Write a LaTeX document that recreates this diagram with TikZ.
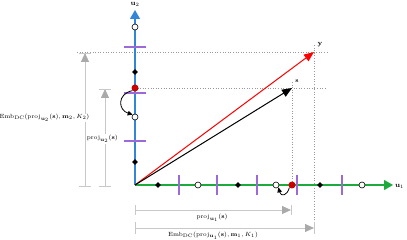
\documentclass[tikz,border=0pt]{standalone}
\usepackage{amsmath}
\usetikzlibrary{arrows.meta,shapes.geometric}
\definecolor{axblue}{HTML}{3385D6}
\definecolor{axgreen}{HTML}{1DAA3C}
\definecolor{tickpurple}{HTML}{9B6AD6}
\definecolor{dotred}{HTML}{CC0000}
\definecolor{dimgray}{HTML}{C8C8C8}
\definecolor{dimtip}{HTML}{AAAAAA}
\begin{document}
\begin{tikzpicture}[x=1pt,y=-1pt,
  lat/.style={circle,draw=black,fill=white,inner sep=0pt,minimum size=6pt,line width=0.6pt},
  cen/.style={diamond,fill=black,inner sep=0pt,minimum size=6pt},
  reddot/.style={circle,fill=dotred,inner sep=0pt,minimum size=7pt},
  guide/.style={gray!80,dotted,line width=0.6pt},
  dimline/.style={dimgray,line width=0.8pt},
  dimarrow/.style={dimgray,line width=0.8pt,-{Triangle[length=9pt,width=8pt,color=dimtip,fill=dimtip]}},
  tickmark/.style={draw=tickpurple,line width=1.2pt},
  axisline/.style={line width=1.3pt,-{Triangle[length=9pt,width=10pt]}},
  vec/.style={line width=1pt},
  lbl/.style={font=\fontsize{6.2}{7}\selectfont,inner sep=1pt},
  biglbl/.style={font=\fontsize{7.5}{9}\selectfont,inner sep=1pt},
  curv/.style={black,line width=0.8pt,-{Triangle[length=5pt,width=4.5pt]}}
]
\useasboundingbox (0,0) rectangle (407,240);
% coordinates
\coordinate (O) at (135,185);
\coordinate (u1tip) at (393,185);
\coordinate (u2tip) at (135,10);
\coordinate (ytip) at (314,52);
\coordinate (stip) at (292,88);
% guide lines
\coordinate (gA) at (77,52);
\coordinate (gB) at (327,52);
\coordinate (gC) at (327,88);
\coordinate (gD) at (314,45);
\coordinate (gE) at (314,232);
\coordinate (gF) at (292,82);
\draw[guide] (gA) -- (gB);
\draw[guide] (135,88) -- (gC);
\draw[guide] (gD) -- (gE);
\draw[guide] (gF) -- (292,185);
% axes
\draw[axisline,draw=axgreen,fill=axgreen] (O) -- (u1tip);
\draw[axisline,draw=axblue,fill=axblue] (O) -- (u2tip);
\node[biglbl,anchor=west] (u1lbl) at (394,186) {$\mathbf{u}_1$};
\node[biglbl] (u2lbl) at (135,4) {$\mathbf{u}_2$};
% ticks on u1
\foreach \x in {179,217,257,297,342} \draw[tickmark] (\x,175) -- (\x,195);
% ticks on u2
\foreach \y in {141,93,47} \draw[tickmark] (124,\y) -- (146,\y);
% vectors
\draw[vec,red,-{Triangle[length=10pt,width=8pt]}] (O) -- (ytip);
\draw[vec,black,-{Triangle[length=10pt,width=8pt]}] (O) -- (stip);
\node[biglbl] (ylbl) at (320,45) {$\mathbf{y}$};
\node[lbl] (slbl) at (297,81) {$\mathbf{s}$};
% lattice points on u1
\node[cen] (d11) at (158,185) {};
\node[cen] (d12) at (238,185) {};
\node[cen] (d13) at (320,185) {};
\node[lat] (c11) at (198,185) {};
\node[lat] (c12) at (276,185) {};
\node[lat] (c13) at (362,185) {};
\node[reddot] (r1) at (292,185) {};
% lattice points on u2
\node[cen] (d21) at (135,162) {};
\node[cen] (d22) at (135,72) {};
\node[lat] (c21) at (135,117) {};
\node[lat] (c22) at (135,27) {};
\node[reddot] (r2) at (135,88) {};
% curved arrows
\draw[curv] (r2.south west) .. controls (117,94) and (118,110) .. (c21.north west);
\draw[curv] (r1.south west) .. controls (287,196) and (281,197) .. (c12.south east);
% left dimension arrows
\coordinate (L1b) at (85,186);
\coordinate (L1t) at (85,53);
\coordinate (L2b) at (105,186);
\coordinate (L2t) at (105,89);
\draw[dimarrow] (L1b) -- (L1t);
\draw[dimarrow] (L2b) -- (L2t);
\draw[dimline] ([xshift=-6pt]L1b) -- ([xshift=6pt]L1b);
\draw[dimline] ([xshift=-6pt]L1t) -- ([xshift=6pt]L1t);
\draw[dimline] ([xshift=-6pt]L2b) -- ([xshift=6pt]L2b);
\draw[dimline] ([xshift=-6pt]L2t) -- ([xshift=6pt]L2t);
\node[font=\fontsize{5.9}{7}\selectfont,inner sep=0.5pt,fill=white,anchor=east] (emb2) at (90,118) {$\mathrm{Emb}_{\mathrm{DC}}(\mathrm{proj}_{\mathbf{u}_2}(\mathbf{s}),\mathbf{m}_2,K_2)$};
\node[lbl,fill=white,anchor=east] (proj2) at (119,139) {$\mathrm{proj}_{\mathbf{u}_2}(\mathbf{s})$};
% bottom dimension arrows
\coordinate (B1l) at (135,210);
\coordinate (B1r) at (291,210);
\coordinate (B2l) at (135,228);
\coordinate (B2r) at (314,228);
\draw[dimarrow] (B1l) -- (B1r);
\draw[dimarrow] (B2l) -- (B2r);
\draw[dimline] ([yshift=-5pt]B1l) -- ([yshift=5pt]B1l);
\draw[dimline] ([yshift=-5pt]B1r) -- ([yshift=5pt]B1r);
\draw[dimline] ([yshift=-6pt]B2l) -- ([yshift=6pt]B2l);
\draw[dimline] ([yshift=-6pt]B2r) -- ([yshift=6pt]B2r);
\node[lbl] (proj1) at (212,218) {$\mathrm{proj}_{\mathbf{u}_1}(\mathbf{s})$};
\node[lbl] (emb1) at (213,235.5) {$\mathrm{Emb}_{\mathrm{DC}}(\mathrm{proj}_{\mathbf{u}_1}(\mathbf{s}),\mathbf{m}_1,K_1)$};
\end{tikzpicture}
\end{document}
